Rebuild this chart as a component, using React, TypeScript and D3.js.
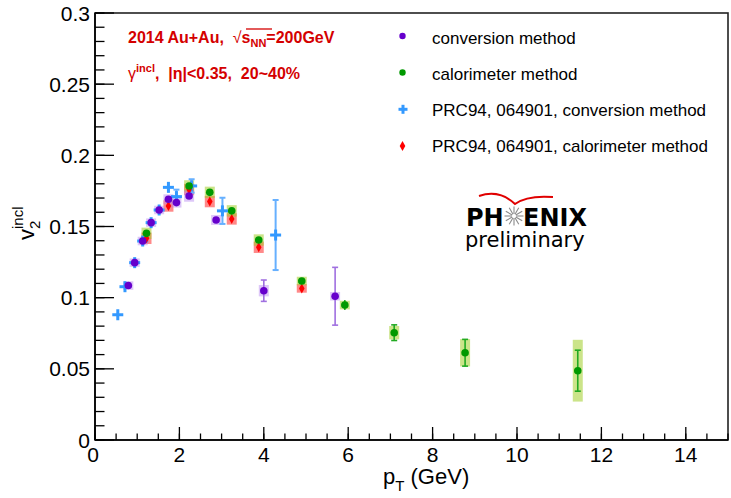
import React from "react";
import * as d3 from "d3";

// Inclusive photon v2 vs pT, Au+Au 200 GeV, 20-40% centrality

// conversion method (2014)
const convPt = [0.79, 0.94, 1.13, 1.33, 1.52, 1.74, 1.93, 2.23, 2.87, 4.0, 5.69];
const convV = [0.1085, 0.1246, 0.1398, 0.1527, 0.1616, 0.1691, 0.1668, 0.1714, 0.1546, 0.1049, 0.101];
const convStat = [0.001, 0.001, 0.001, 0.001, 0.001, 0.0015, 0.0015, 0.0015, 0.002, 0.0075, 0.0203];
const convSys = [0.003, 0.003, 0.003, 0.003, 0.003, 0.0035, 0.0035, 0.004, 0.0035, 0.004, 0.003];

// calorimeter method (2014)
const caloPt = [1.22, 2.23, 2.72, 3.24, 3.88, 4.9, 5.92, 7.09, 8.77, 11.44];
const caloV = [0.1452, 0.1785, 0.174, 0.161, 0.1405, 0.1117, 0.0948, 0.0754, 0.0613, 0.0487];
const caloStat = [0.0015, 0.0015, 0.0015, 0.0015, 0.0015, 0.0015, 0.0035, 0.0055, 0.0094, 0.0144];
const caloSys = [0.004, 0.004, 0.004, 0.004, 0.004, 0.003, 0.003, 0.0047, 0.0096, 0.0217];

// PRC94, 064901 - conversion method
const prcConvPt = [0.54, 0.71, 0.94, 1.13, 1.33, 1.52, 1.74, 1.93, 2.29, 3.02, 4.28];
const prcConvV = [0.088, 0.1077, 0.1246, 0.1398, 0.1527, 0.1616, 0.1775, 0.171, 0.1785, 0.161, 0.144];
const prcConvErr = [0.0015, 0.0015, 0.0015, 0.0015, 0.0015, 0.0015, 0.0033, 0.0049, 0.0047, 0.0092, 0.0246];

// PRC94, 064901 - calorimeter method
const prcCaloPt = [1.22, 1.74, 2.23, 2.72, 3.24, 3.88, 4.9];
const prcCaloV = [0.1417, 0.1644, 0.176, 0.1675, 0.1553, 0.1354, 0.1065];
const prcCaloErr = [0.0015, 0.0015, 0.0015, 0.0015, 0.0015, 0.0015, 0.0015];
const prcCaloSys = [0.004, 0.004, 0.004, 0.004, 0.004, 0.004, 0.003];

const yTickValues = [0, 0.05, 0.1, 0.15, 0.2, 0.25, 0.3];
const yTickLabels = ["0", "0.05", "0.1", "0.15", "0.2", "0.25", "0.3"];
const xTickValues = [0, 2, 4, 6, 8, 10, 12, 14];
const xTickLabels = ["0", "2", "4", "6", "8", "10", "12", "14"];

const legendLabels = [
  "conversion method",
  "calorimeter method",
  "PRC94, 064901, conversion method",
  "PRC94, 064901, calorimeter method",
];

const PURPLE = "#6600cc";
const GREEN = "#009900";
const BLUE = "#3399ff";
const RED = "#ff0000";
const TITLE_RED = "#d40000";

const FONT = "'Liberation Sans', Arial, Helvetica, sans-serif";

export default function App() {
  const W = 731;
  const H = 498;
  const x = d3.scaleLinear().domain([0, 15]).range([95, 728]);
  const y = d3.scaleLinear().domain([0, 0.3]).range([440, 13]);
  const [x0, x1] = x.range();
  const [yb, yt] = y.range();

  const boxHalf = 5;
  const markR = 3.8;

  const hasCaps = (top: number, bot: number) => (bot - top) / 2 > markR + 1.5;

  const errBar = (px: number, v: number, e: number, color: string, key: string, w = 1.6) => {
    const top = y(v + e);
    const bot = y(v - e);
    const cap = hasCaps(top, bot);
    return (
      <g key={key} stroke={color} strokeWidth={w}>
        <line x1={px} x2={px} y1={top} y2={bot} />
        {cap && <line x1={px - 3} x2={px + 3} y1={top} y2={top} />}
        {cap && <line x1={px - 3} x2={px + 3} y1={bot} y2={bot} />}
      </g>
    );
  };

  const sysBox = (px: number, v: number, s: number, fill: string, key: string) => (
    <rect key={key} x={px - boxHalf} width={boxHalf * 2} y={y(v + s)} height={y(v - s) - y(v + s)} fill={fill} />
  );

  const diamond = (cx: number, cy: number, key: string, scale = 1) => {
    const hw = 2.8 * scale;
    const hh = 5 * scale;
    return <path key={key} d={`M${cx},${cy - hh}L${cx + hw},${cy}L${cx},${cy + hh}L${cx - hw},${cy}Z`} fill={RED} />;
  };

  const cross = (cx: number, cy: number, key: string, arm = 5.5) => (
    <g key={key} stroke={BLUE} strokeWidth={3}>
      <line x1={cx - arm} x2={cx + arm} y1={cy} y2={cy} />
      <line x1={cx} x2={cx} y1={cy - arm} y2={cy + arm} />
    </g>
  );

  const yMinor = y.ticks(30);
  const xMinor = x.ticks(30);

  // starburst in the logo
  const starC = { x: 514, y: 216 };
  const starAngles = d3.range(0, 360, 30);

  return (
    <svg
      width={W}
      height={H}
      style={{ position: "absolute", left: 0, top: 0, background: "#fff" }}
      fontFamily={FONT}
    >
      <rect x={0} y={0} width={W} height={H} fill="#fff" />

      {/* systematic boxes */}
      {prcCaloPt.map((p, i) => sysBox(x(p), prcCaloV[i], prcCaloSys[i], "rgba(255,40,40,0.55)", `rs${i}`))}
      {caloPt.map((p, i) => sysBox(x(p), caloV[i], caloSys[i], "rgba(160,205,40,0.55)", `gs${i}`))}
      {convPt.map((p, i) => sysBox(x(p), convV[i], convSys[i], "rgba(180,130,240,0.45)", `ps${i}`))}

      {/* PRC94 conversion */}
      {prcConvPt.map((p, i) => errBar(x(p), prcConvV[i], prcConvErr[i], "#66b0ff", `be${i}`, 2))}
      {prcConvPt.map((p, i) => cross(x(p), y(prcConvV[i]), `bm${i}`))}

      {/* PRC94 calorimeter */}
      {prcCaloPt.map((p, i) => errBar(x(p), prcCaloV[i], prcCaloErr[i], RED, `re${i}`))}
      {prcCaloPt.map((p, i) => diamond(x(p), y(prcCaloV[i]), `rm${i}`))}

      {/* calorimeter method */}
      {caloPt.map((p, i) => errBar(x(p), caloV[i], caloStat[i], "#22aa22", `ge${i}`))}
      {caloPt.map((p, i) => (
        <circle key={`gm${i}`} cx={x(p)} cy={y(caloV[i])} r={markR} fill={GREEN} />
      ))}

      {/* conversion method */}
      {convPt.map((p, i) => errBar(x(p), convV[i], convStat[i], "#a070e0", `pe${i}`))}
      {convPt.map((p, i) => (
        <circle key={`pm${i}`} cx={x(p)} cy={y(convV[i])} r={markR} fill={PURPLE} />
      ))}

      {/* frame */}
      <rect x={x0} y={yt} width={x1 - x0} height={yb - yt} fill="none" stroke="#222" strokeWidth={1.6} />

      {/* y axis */}
      <g stroke="#000" strokeWidth={1.3}>
        {yMinor.map((t, i) => (
          <line key={`ym${i}`} x1={x0} x2={x0 + 9.5} y1={y(t)} y2={y(t)} />
        ))}
        {yTickValues.map((t, i) => (
          <line key={`yM${i}`} x1={x0} x2={x0 + 19} y1={y(t)} y2={y(t)} />
        ))}
        <line x1={x0} x2={x0} y1={yt} y2={yb} strokeWidth={1.6} />
      </g>
      {yTickValues.map((t, i) => (
        <text key={`yl${i}`} x={90} y={y(t)} dy="0.36em" textAnchor="end" fontSize={21} fill="#000">
          {yTickLabels[i]}
        </text>
      ))}

      {/* x axis */}
      <g stroke="#000" strokeWidth={1.3}>
        {xMinor.map((t, i) => (
          <line key={`xm${i}`} x1={x(t)} x2={x(t)} y1={yb} y2={yb - 6.5} />
        ))}
        {xTickValues.map((t, i) => (
          <line key={`xM${i}`} x1={x(t)} x2={x(t)} y1={yb} y2={yb - 13} />
        ))}
        <line x1={x0} x2={x1} y1={yb} y2={yb} strokeWidth={1.6} />
      </g>
      {xTickValues.map((t, i) => (
        <text key={`xl${i}`} x={x(t) - (i === 0 ? 2 : 0)} y={462} textAnchor="middle" fontSize={21} fill="#000">
          {xTickLabels[i]}
        </text>
      ))}

      {/* axis titles */}
      <text x={383} y={484} fontSize={22} fill="#000">
        p
        <tspan fontSize={15} dy={7}>T</tspan>
        <tspan dy={-7}>{" (GeV)"}</tspan>
      </text>
      <g transform="translate(34,240) rotate(-90)">
        <text x={0} y={0} fontSize={22} fill="#000">v</text>
        <text x={11} y={6} fontSize={15} fill="#000">2</text>
        <text x={11} y={-11} fontSize={15} fill="#000">incl</text>
      </g>

      {/* header */}
      <text x={128} y={43} fontSize={16} fontWeight="bold" fill={TITLE_RED} style={{ whiteSpace: "pre" }}>
        {"2014 Au+Au,  "}
        <tspan fontWeight="normal">√</tspan>
        <tspan>s</tspan>
        <tspan fontSize={11} dy={4}>NN</tspan>
        <tspan dy={-4}>=200GeV</tspan>
      </text>
      <line x1={246} x2={272} y1={29} y2={29} stroke={TITLE_RED} strokeWidth={1.3} />
      <text x={128} y={79} fontSize={16} fontWeight="bold" fill={TITLE_RED} style={{ whiteSpace: "pre" }}>
        <tspan fontWeight="normal">γ</tspan>
        <tspan fontSize={11} dy={-7}>incl</tspan>
        <tspan dy={7}>{",  |η|<0.35,  20~40%"}</tspan>
      </text>

      {/* legend */}
      <circle cx={402.5} cy={36} r={3.2} fill={PURPLE} />
      <circle cx={402.5} cy={72.5} r={3.2} fill={GREEN} />
      {cross(403, 109.3, "lc", 4.5)}
      {diamond(402.5, 146, "ld", 1)}
      {legendLabels.map((l, i) => (
        <text key={`lg${i}`} x={432} y={43.5 + i * 36.3} fontSize={17} fill="#000">
          {l}
        </text>
      ))}

      {/* logo */}
      <path d="M479,196 Q499,189 515,204 Q527,195 553,197" fill="none" stroke="#e00000" strokeWidth={2} />
      <text x={466} y={226} fontSize={24} fontWeight="bold" fontFamily="'DejaVu Sans', sans-serif" fill="#000">
        PH
      </text>
      <text x={523} y={226} fontSize={24} fontWeight="bold" fontFamily="'DejaVu Sans', sans-serif" fill="#000">
        ENIX
      </text>
      <g stroke="#8a8a8a" strokeWidth={1.1}>
        {starAngles.map((a) => {
          const r = (a * Math.PI) / 180;
          return (
            <line
              key={`st${a}`}
              x1={starC.x + 2 * Math.cos(r)}
              y1={starC.y + 2 * Math.sin(r)}
              x2={starC.x + 9.5 * Math.cos(r)}
              y2={starC.y + 9.5 * Math.sin(r)}
            />
          );
        })}
      </g>
      <text x={465} y={247} fontSize={21} fontFamily="'DejaVu Sans', sans-serif" fill="#000">
        preliminary
      </text>
    </svg>
  );
}
